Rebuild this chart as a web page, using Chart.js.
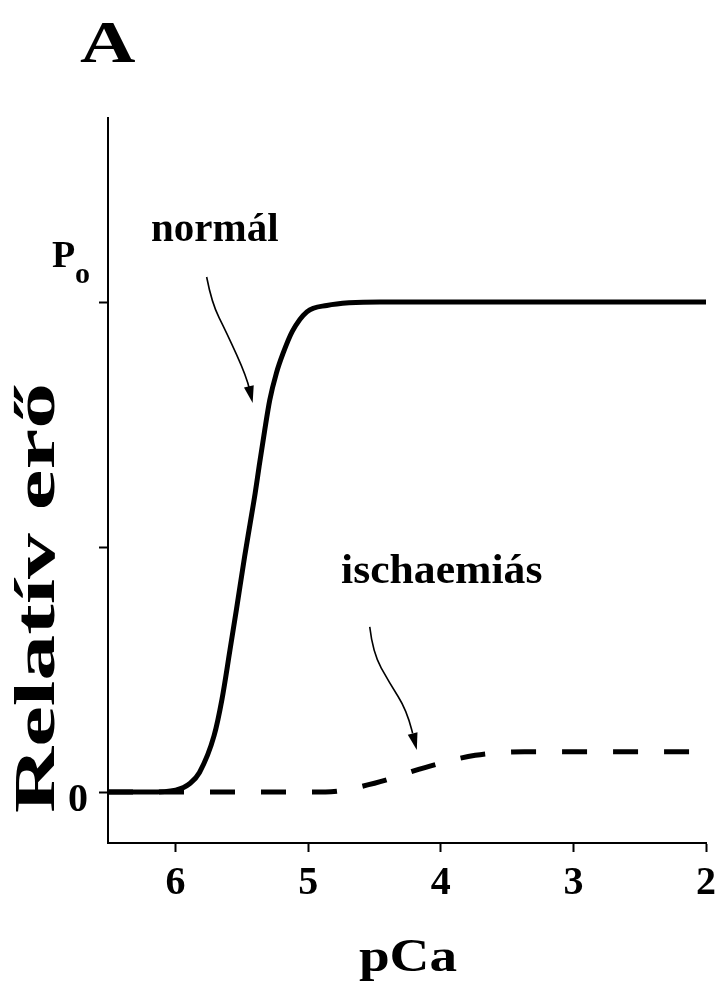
<!DOCTYPE html>
<html>
<head>
<meta charset="utf-8">
<script src="https://cdn.jsdelivr.net/npm/chart.js@4.4.1/dist/chart.umd.min.js"></script>
<style>
  html, body { margin: 0; padding: 0; background: #fff; }
  #wrap { width: 718px; height: 986px; position: relative; }
</style>
</head>
<body>
<div id="wrap"><canvas id="pcaChart"></canvas></div>
<script>
// values (pCa on x, relative force on y, Po = 1)
const pCaNormal = [6.51, 6.2, 6.0, 5.89, 5.82, 5.71, 5.65, 5.59, 5.54, 5.48, 5.44, 5.40, 5.37, 5.33, 5.29, 5.24, 5.19, 5.12, 5.01, 4.86, 4.46, 2.0];
const forceNormal = [0, 0, 0.004, 0.018, 0.04, 0.115, 0.19, 0.29, 0.375, 0.48, 0.545, 0.61, 0.665, 0.735, 0.80, 0.855, 0.895, 0.94, 0.98, 0.993, 1.0, 1.0];

const pCaIsch = [6.51, 5.5, 4.87, 4.5, 4.12, 3.74, 3.37, 3.0, 2.0];
const forceIsch = [0, 0, 0, 0.018, 0.05, 0.075, 0.082, 0.082, 0.082];

const xTicks = [2, 3, 4, 5, 6];
const yTicks = [0, 0.5, 1];

const seriesNames = ['normál', 'ischaemiás'];

const serif = '"Liberation Serif", "DejaVu Serif", serif';

const toPoints = (xs, ys) => xs.map((x, i) => ({ x: x, y: ys[i] }));

// annotation arrows, in data units (pCa, force)
const arrowNormal = [[5.766, 1.051], [5.728, 0.998], [5.615, 0.937], [5.464, 0.847], [5.419, 0.794]];
const arrowIsch = [[4.536, 0.337], [4.513, 0.284], [4.385, 0.222], [4.257, 0.167], [4.181, 0.086]];

const drawText = (ctx, txt, x, y, size, stretch, rot) => {
  ctx.save();
  ctx.translate(x, y);
  if (rot) ctx.rotate(rot);
  ctx.scale(stretch, 1);
  ctx.font = 'bold ' + size + 'px ' + serif;
  ctx.fillText(txt, 0, 0);
  ctx.restore();
};

const drawArrow = (ctx, pts) => {
  ctx.save();
  ctx.strokeStyle = '#000';
  ctx.fillStyle = '#000';
  ctx.lineWidth = 1.6;
  ctx.beginPath();
  ctx.moveTo(pts[0][0], pts[0][1]);
  for (let i = 1; i < pts.length - 1; i++) {
    const mx = (pts[i][0] + pts[i + 1][0]) / 2;
    const my = (pts[i][1] + pts[i + 1][1]) / 2;
    ctx.quadraticCurveTo(pts[i][0], pts[i][1], mx, my);
  }
  const tip = pts[pts.length - 1];
  const prev = pts[pts.length - 2];
  const ang = Math.atan2(tip[1] - prev[1], tip[0] - prev[0]);
  const len = 17, half = 5;
  const bx = tip[0] - len * Math.cos(ang), by = tip[1] - len * Math.sin(ang);
  ctx.lineTo(bx, by);
  ctx.stroke();
  ctx.beginPath();
  ctx.moveTo(tip[0], tip[1]);
  ctx.lineTo(bx + half * Math.sin(ang), by - half * Math.cos(ang));
  ctx.lineTo(bx - half * Math.sin(ang), by + half * Math.cos(ang));
  ctx.closePath();
  ctx.fill();
  ctx.restore();
};

const extras = {
  id: 'extras',
  afterDraw(chart) {
    const ctx = chart.ctx;
    const xs = chart.scales.x, ys = chart.scales.y;
    const px = p => [xs.getPixelForValue(p[0]), ys.getPixelForValue(p[1])];
    ctx.save();
    ctx.fillStyle = '#000';
    ctx.textBaseline = 'alphabetic';
    ctx.textAlign = 'left';
    // panel letter
    drawText(ctx, 'A', 80, 62, 60, 1.28, 0);
    // Po label
    drawText(ctx, 'P', 52, 267, 38, 1, 0);
    drawText(ctx, 'o', 75, 283, 30, 1, 0);
    // series labels
    drawText(ctx, seriesNames[0], 151, 241, 41, 1, 0);
    drawText(ctx, seriesNames[1], 341, 583, 42, 1.04, 0);
    // axis titles
    ctx.textAlign = 'center';
    drawText(ctx, 'pCa', 408, 971, 46, 1.2, 0);
    drawText(ctx, 'Relatív erő', 54, 598, 58, 1.58, -Math.PI / 2);
    ctx.restore();
    drawArrow(ctx, arrowNormal.map(px));
    drawArrow(ctx, arrowIsch.map(px));
  }
};

new Chart(document.getElementById('pcaChart'), {
  type: 'line',
  data: {
    datasets: [{
      label: seriesNames[0],
      data: toPoints(pCaNormal, forceNormal),
      borderColor: '#000',
      borderWidth: 5,
      pointRadius: 0,
      cubicInterpolationMode: 'monotone',
      fill: false
    }, {
      label: seriesNames[1],
      data: toPoints(pCaIsch, forceIsch),
      borderColor: '#000',
      borderWidth: 5,
      borderDash: [25, 26],
      borderCapStyle: 'butt',
      pointRadius: 0,
      cubicInterpolationMode: 'monotone',
      fill: false
    }]
  },
  options: {
    responsive: true,
    maintainAspectRatio: false,
    animation: false,
    layout: { padding: { top: 118, right: 12, left: 0, bottom: 0 } },
    plugins: {
      legend: { display: false },
      tooltip: { enabled: false }
    },
    scales: {
      x: {
        type: 'linear',
        reverse: true,
        min: 2,
        max: 6.51,
        afterBuildTicks: s => { s.ticks = xTicks.map(v => ({ value: v })); },
        afterFit: s => { s.height = 143; },
        border: { display: true, color: '#000', width: 2 },
        grid: { drawOnChartArea: false, drawTicks: true, tickLength: 9, tickColor: '#000', tickWidth: 2 },
        ticks: {
          color: '#000',
          padding: 8,
          maxRotation: 0,
          font: { family: serif, size: 40, weight: 'bold' },
          callback: v => String(v)
        }
      },
      y: {
        type: 'linear',
        min: -0.104,
        max: 1.3755,
        afterBuildTicks: s => { s.ticks = yTicks.map(v => ({ value: v })); },
        afterFit: s => { s.width = 108; },
        border: { display: true, color: '#000', width: 2 },
        grid: { drawOnChartArea: false, drawTicks: true, tickLength: 9, tickColor: '#000', tickWidth: 2 },
        ticks: {
          color: '#000',
          padding: 11,
          labelOffset: 9,
          font: { family: serif, size: 40, weight: 'bold' },
          callback: v => (v === 0 ? '0' : '')
        }
      }
    }
  },
  plugins: [extras]
});
</script>
</body>
</html>
